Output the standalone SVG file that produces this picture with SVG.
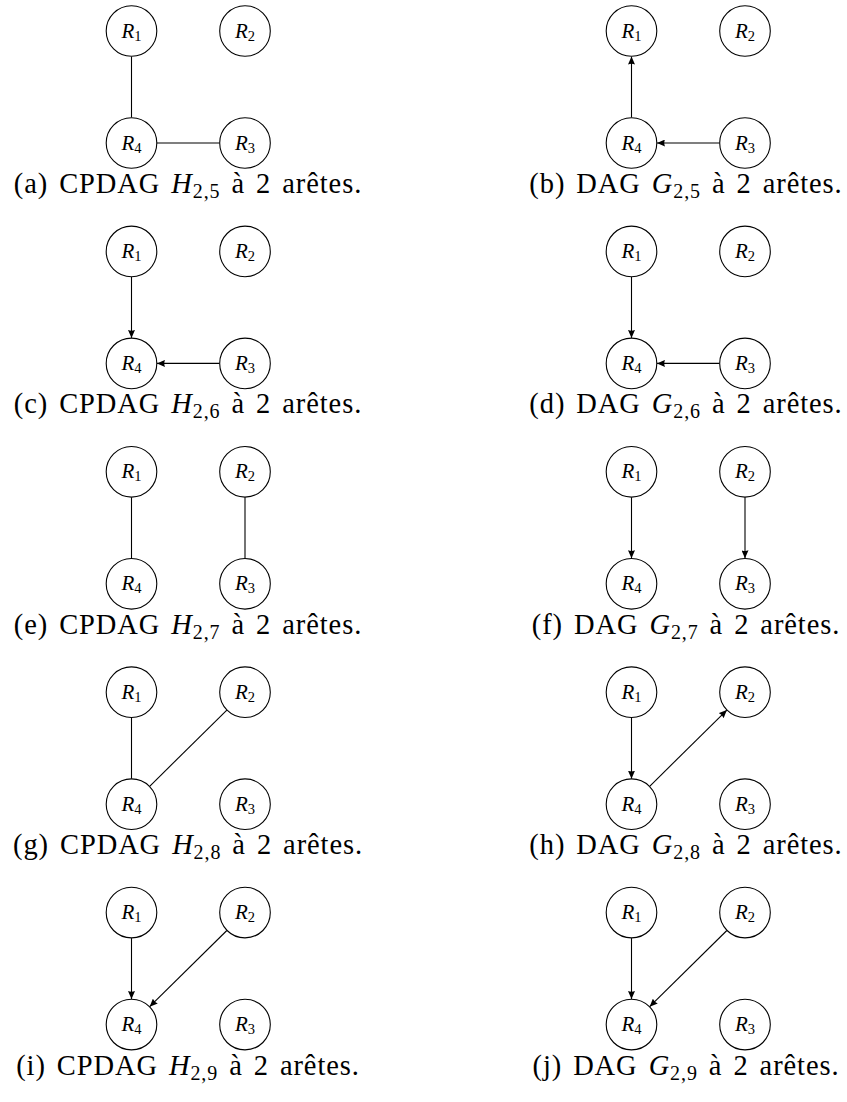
<svg xmlns="http://www.w3.org/2000/svg" width="847" height="1102" viewBox="0 0 847 1102">
<style>
.n circle{fill:#fff;stroke:#000;stroke-width:1.1}
.lbl{font-family:"Liberation Serif",serif;font-style:italic;font-size:21px;text-anchor:middle;fill:#000}
.s{font-style:normal;font-size:14.5px}
.e{stroke:#000;stroke-width:1.1;fill:none}
.a{marker-end:url(#ah)}
.cap{font-family:"Liberation Serif",serif;font-size:28.5px;text-anchor:middle;fill:#000;letter-spacing:0.9px;word-spacing:3px}
.cs{font-size:20px}
.i{font-style:italic}
</style>
<defs>
<marker id="ah" markerUnits="userSpaceOnUse" markerWidth="8" markerHeight="7" refX="8" refY="3.5" orient="auto" viewBox="0 0 8 7"><path d="M0,0 L8,3.5 L0,7 Q1.5,3.5 0,0z" fill="#000"/></marker>
</defs>
<rect width="847" height="1102" fill="#fff"/>

<!-- (a) -->
<g id="panel-a">
<g id="a-edges"><line class="e" x1="131.5" y1="56.5" x2="131.5" y2="117.5"/><line class="e" x1="219.5" y1="143" x2="157" y2="143"/></g>
<g id="a-R1" class="n"><circle cx="131.5" cy="31" r="25.3"/><text class="lbl" x="131.5" y="37.5">R<tspan class="s" dy="3">1</tspan></text></g>
<g id="a-R2" class="n"><circle cx="245" cy="31" r="25.3"/><text class="lbl" x="245" y="37.5">R<tspan class="s" dy="3">2</tspan></text></g>
<g id="a-R3" class="n"><circle cx="245" cy="143" r="25.3"/><text class="lbl" x="245" y="149.5">R<tspan class="s" dy="3">3</tspan></text></g>
<g id="a-R4" class="n"><circle cx="131.5" cy="143" r="25.3"/><text class="lbl" x="131.5" y="149.5">R<tspan class="s" dy="3">4</tspan></text></g>
<text id="a-cap" class="cap" x="188" y="193">(a) CPDAG <tspan class="i">H</tspan><tspan class="cs" dy="5">2,5</tspan><tspan dy="-5"> à 2 arêtes.</tspan></text>
</g>

<!-- (b) -->
<g id="panel-b" transform="translate(500,0)">
<g id="b-edges"><line class="e a" x1="131.5" y1="117.5" x2="131.5" y2="56.5"/><line class="e a" x1="219.5" y1="143" x2="157" y2="143"/></g>
<g id="b-R1" class="n"><circle cx="131.5" cy="31" r="25.3"/><text class="lbl" x="131.5" y="37.5">R<tspan class="s" dy="3">1</tspan></text></g>
<g id="b-R2" class="n"><circle cx="245" cy="31" r="25.3"/><text class="lbl" x="245" y="37.5">R<tspan class="s" dy="3">2</tspan></text></g>
<g id="b-R3" class="n"><circle cx="245" cy="143" r="25.3"/><text class="lbl" x="245" y="149.5">R<tspan class="s" dy="3">3</tspan></text></g>
<g id="b-R4" class="n"><circle cx="131.5" cy="143" r="25.3"/><text class="lbl" x="131.5" y="149.5">R<tspan class="s" dy="3">4</tspan></text></g>
<text id="b-cap" class="cap" x="186" y="193">(b) DAG <tspan class="i">G</tspan><tspan class="cs" dy="5">2,5</tspan><tspan dy="-5"> à 2 arêtes.</tspan></text>
</g>

<!-- (c) -->
<g id="panel-c" transform="translate(0,220.4)">
<g id="c-edges"><line class="e a" x1="131.5" y1="56.5" x2="131.5" y2="117.5"/><line class="e a" x1="219.5" y1="143" x2="157" y2="143"/></g>
<g id="c-R1" class="n"><circle cx="131.5" cy="31" r="25.3"/><text class="lbl" x="131.5" y="37.5">R<tspan class="s" dy="3">1</tspan></text></g>
<g id="c-R2" class="n"><circle cx="245" cy="31" r="25.3"/><text class="lbl" x="245" y="37.5">R<tspan class="s" dy="3">2</tspan></text></g>
<g id="c-R3" class="n"><circle cx="245" cy="143" r="25.3"/><text class="lbl" x="245" y="149.5">R<tspan class="s" dy="3">3</tspan></text></g>
<g id="c-R4" class="n"><circle cx="131.5" cy="143" r="25.3"/><text class="lbl" x="131.5" y="149.5">R<tspan class="s" dy="3">4</tspan></text></g>
<text id="c-cap" class="cap" x="188" y="193">(c) CPDAG <tspan class="i">H</tspan><tspan class="cs" dy="5">2,6</tspan><tspan dy="-5"> à 2 arêtes.</tspan></text>
</g>

<!-- (d) -->
<g id="panel-d" transform="translate(500,220.4)">
<g id="d-edges"><line class="e a" x1="131.5" y1="56.5" x2="131.5" y2="117.5"/><line class="e a" x1="219.5" y1="143" x2="157" y2="143"/></g>
<g id="d-R1" class="n"><circle cx="131.5" cy="31" r="25.3"/><text class="lbl" x="131.5" y="37.5">R<tspan class="s" dy="3">1</tspan></text></g>
<g id="d-R2" class="n"><circle cx="245" cy="31" r="25.3"/><text class="lbl" x="245" y="37.5">R<tspan class="s" dy="3">2</tspan></text></g>
<g id="d-R3" class="n"><circle cx="245" cy="143" r="25.3"/><text class="lbl" x="245" y="149.5">R<tspan class="s" dy="3">3</tspan></text></g>
<g id="d-R4" class="n"><circle cx="131.5" cy="143" r="25.3"/><text class="lbl" x="131.5" y="149.5">R<tspan class="s" dy="3">4</tspan></text></g>
<text id="d-cap" class="cap" x="186" y="193">(d) DAG <tspan class="i">G</tspan><tspan class="cs" dy="5">2,6</tspan><tspan dy="-5"> à 2 arêtes.</tspan></text>
</g>

<!-- (e) -->
<g id="panel-e" transform="translate(0,440.8)">
<g id="e-edges"><line class="e" x1="131.5" y1="56.5" x2="131.5" y2="117.5"/><line class="e" x1="245" y1="56.5" x2="245" y2="117.5"/></g>
<g id="e-R1" class="n"><circle cx="131.5" cy="31" r="25.3"/><text class="lbl" x="131.5" y="37.5">R<tspan class="s" dy="3">1</tspan></text></g>
<g id="e-R2" class="n"><circle cx="245" cy="31" r="25.3"/><text class="lbl" x="245" y="37.5">R<tspan class="s" dy="3">2</tspan></text></g>
<g id="e-R3" class="n"><circle cx="245" cy="143" r="25.3"/><text class="lbl" x="245" y="149.5">R<tspan class="s" dy="3">3</tspan></text></g>
<g id="e-R4" class="n"><circle cx="131.5" cy="143" r="25.3"/><text class="lbl" x="131.5" y="149.5">R<tspan class="s" dy="3">4</tspan></text></g>
<text id="e-cap" class="cap" x="188" y="193">(e) CPDAG <tspan class="i">H</tspan><tspan class="cs" dy="5">2,7</tspan><tspan dy="-5"> à 2 arêtes.</tspan></text>
</g>

<!-- (f) -->
<g id="panel-f" transform="translate(500,440.8)">
<g id="f-edges"><line class="e a" x1="131.5" y1="56.5" x2="131.5" y2="117.5"/><line class="e a" x1="245" y1="56.5" x2="245" y2="117.5"/></g>
<g id="f-R1" class="n"><circle cx="131.5" cy="31" r="25.3"/><text class="lbl" x="131.5" y="37.5">R<tspan class="s" dy="3">1</tspan></text></g>
<g id="f-R2" class="n"><circle cx="245" cy="31" r="25.3"/><text class="lbl" x="245" y="37.5">R<tspan class="s" dy="3">2</tspan></text></g>
<g id="f-R3" class="n"><circle cx="245" cy="143" r="25.3"/><text class="lbl" x="245" y="149.5">R<tspan class="s" dy="3">3</tspan></text></g>
<g id="f-R4" class="n"><circle cx="131.5" cy="143" r="25.3"/><text class="lbl" x="131.5" y="149.5">R<tspan class="s" dy="3">4</tspan></text></g>
<text id="f-cap" class="cap" x="186" y="193">(f) DAG <tspan class="i">G</tspan><tspan class="cs" dy="5">2,7</tspan><tspan dy="-5"> à 2 arêtes.</tspan></text>
</g>

<!-- (g) -->
<g id="panel-g" transform="translate(0,661.2)">
<g id="g-edges"><line class="e" x1="131.5" y1="56.5" x2="131.5" y2="117.5"/><line class="e" x1="149.65" y1="125.09" x2="226.85" y2="48.91"/></g>
<g id="g-R1" class="n"><circle cx="131.5" cy="31" r="25.3"/><text class="lbl" x="131.5" y="37.5">R<tspan class="s" dy="3">1</tspan></text></g>
<g id="g-R2" class="n"><circle cx="245" cy="31" r="25.3"/><text class="lbl" x="245" y="37.5">R<tspan class="s" dy="3">2</tspan></text></g>
<g id="g-R3" class="n"><circle cx="245" cy="143" r="25.3"/><text class="lbl" x="245" y="149.5">R<tspan class="s" dy="3">3</tspan></text></g>
<g id="g-R4" class="n"><circle cx="131.5" cy="143" r="25.3"/><text class="lbl" x="131.5" y="149.5">R<tspan class="s" dy="3">4</tspan></text></g>
<text id="g-cap" class="cap" x="188" y="193">(g) CPDAG <tspan class="i">H</tspan><tspan class="cs" dy="5">2,8</tspan><tspan dy="-5"> à 2 arêtes.</tspan></text>
</g>

<!-- (h) -->
<g id="panel-h" transform="translate(500,661.2)">
<g id="h-edges"><line class="e a" x1="131.5" y1="56.5" x2="131.5" y2="117.5"/><line class="e a" x1="149.65" y1="125.09" x2="226.85" y2="48.91"/></g>
<g id="h-R1" class="n"><circle cx="131.5" cy="31" r="25.3"/><text class="lbl" x="131.5" y="37.5">R<tspan class="s" dy="3">1</tspan></text></g>
<g id="h-R2" class="n"><circle cx="245" cy="31" r="25.3"/><text class="lbl" x="245" y="37.5">R<tspan class="s" dy="3">2</tspan></text></g>
<g id="h-R3" class="n"><circle cx="245" cy="143" r="25.3"/><text class="lbl" x="245" y="149.5">R<tspan class="s" dy="3">3</tspan></text></g>
<g id="h-R4" class="n"><circle cx="131.5" cy="143" r="25.3"/><text class="lbl" x="131.5" y="149.5">R<tspan class="s" dy="3">4</tspan></text></g>
<text id="h-cap" class="cap" x="186" y="193">(h) DAG <tspan class="i">G</tspan><tspan class="cs" dy="5">2,8</tspan><tspan dy="-5"> à 2 arêtes.</tspan></text>
</g>

<!-- (i) -->
<g id="panel-i" transform="translate(0,881.6)">
<g id="i-edges"><line class="e a" x1="131.5" y1="56.5" x2="131.5" y2="117.5"/><line class="e a" x1="226.85" y1="48.91" x2="149.65" y2="125.09"/></g>
<g id="i-R1" class="n"><circle cx="131.5" cy="31" r="25.3"/><text class="lbl" x="131.5" y="37.5">R<tspan class="s" dy="3">1</tspan></text></g>
<g id="i-R2" class="n"><circle cx="245" cy="31" r="25.3"/><text class="lbl" x="245" y="37.5">R<tspan class="s" dy="3">2</tspan></text></g>
<g id="i-R3" class="n"><circle cx="245" cy="143" r="25.3"/><text class="lbl" x="245" y="149.5">R<tspan class="s" dy="3">3</tspan></text></g>
<g id="i-R4" class="n"><circle cx="131.5" cy="143" r="25.3"/><text class="lbl" x="131.5" y="149.5">R<tspan class="s" dy="3">4</tspan></text></g>
<text id="i-cap" class="cap" x="188" y="193">(i) CPDAG <tspan class="i">H</tspan><tspan class="cs" dy="5">2,9</tspan><tspan dy="-5"> à 2 arêtes.</tspan></text>
</g>

<!-- (j) -->
<g id="panel-j" transform="translate(500,881.6)">
<g id="j-edges"><line class="e a" x1="131.5" y1="56.5" x2="131.5" y2="117.5"/><line class="e a" x1="226.85" y1="48.91" x2="149.65" y2="125.09"/></g>
<g id="j-R1" class="n"><circle cx="131.5" cy="31" r="25.3"/><text class="lbl" x="131.5" y="37.5">R<tspan class="s" dy="3">1</tspan></text></g>
<g id="j-R2" class="n"><circle cx="245" cy="31" r="25.3"/><text class="lbl" x="245" y="37.5">R<tspan class="s" dy="3">2</tspan></text></g>
<g id="j-R3" class="n"><circle cx="245" cy="143" r="25.3"/><text class="lbl" x="245" y="149.5">R<tspan class="s" dy="3">3</tspan></text></g>
<g id="j-R4" class="n"><circle cx="131.5" cy="143" r="25.3"/><text class="lbl" x="131.5" y="149.5">R<tspan class="s" dy="3">4</tspan></text></g>
<text id="j-cap" class="cap" x="186" y="193">(j) DAG <tspan class="i">G</tspan><tspan class="cs" dy="5">2,9</tspan><tspan dy="-5"> à 2 arêtes.</tspan></text>
</g>
</svg>
